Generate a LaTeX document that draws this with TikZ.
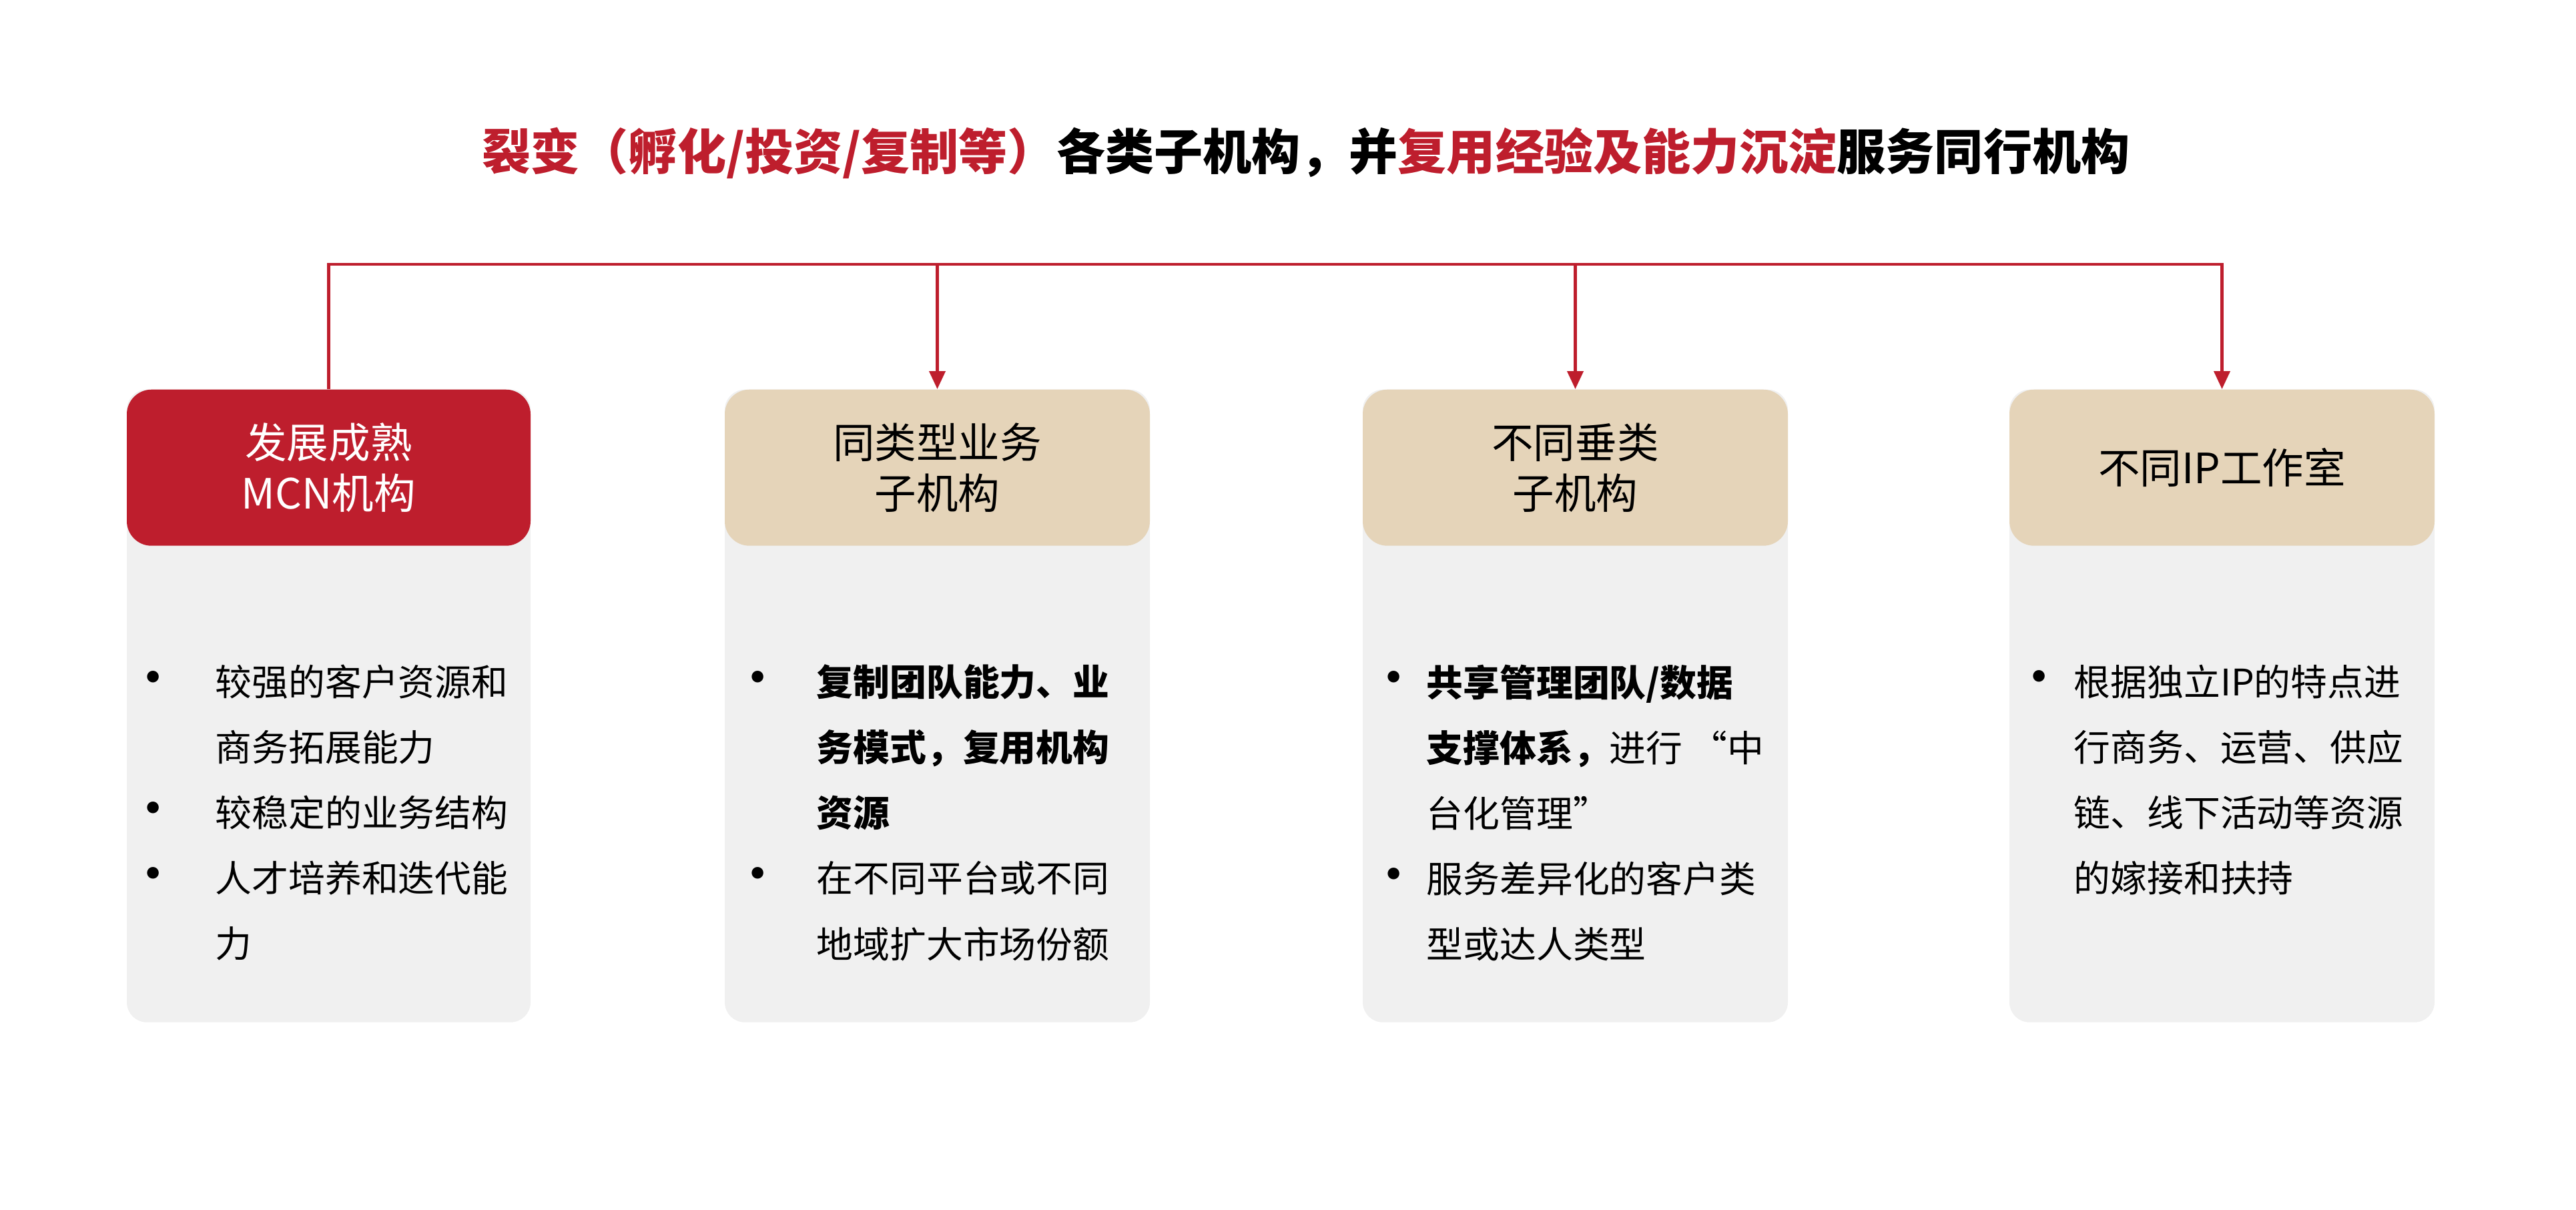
\documentclass[tikz,border=0pt]{standalone}
\usepackage{fontspec}
\newfontfamily\cjk{Noto Sans CJK SC}
\usetikzlibrary{positioning,arrows.meta}
\definecolor{mcnred}{RGB}{190,30,45}
\definecolor{sand}{RGB}{229,212,185}
\definecolor{panelgray}{RGB}{240,240,240}
\newcommand\bul[1]{\llap{\makebox[0pt]{\raisebox{-0.05em}{\scalebox{1.5}{\textbullet}}}\hspace{#1}}}
\tikzset{
  panel/.style={fill=panelgray, rounded corners=0.3cm, minimum width=#1,
    minimum height=9.48cm, anchor=north, inner sep=0pt},
  head/.style={rounded corners=0.37cm, minimum width=#1, minimum height=2.34cm,
    anchor=north, align=center, inner sep=0pt,
    font=\cjk\fontsize{17.8}{21.6}\selectfont},
  bodytext/.style={anchor=north west, align=left, inner sep=0pt,
    font=\cjk\fontsize{15.6}{27.9}\selectfont},
  link/.style={draw=mcnred, line width=1.2pt},
  arrowlink/.style={-{Triangle[length=0.27cm,width=0.24cm]}}
}
\begin{document}
\begin{tikzpicture}
  \useasboundingbox (0,0) rectangle (38.6,-18.12);
  % Define nodes
  \node[font=\cjk\bfseries\fontsize{20.8}{24}\selectfont] (title) at (19.57,-2.29)
    {\textcolor{mcnred}{裂变（孵化/投资/复制等）}各类子机构，并\textcolor{mcnred}{复用经验及能力沉淀}服务同行机构};
  \node[panel=6.05cm] (p1) at (4.925,-5.83) {};
  \node[panel=6.37cm] (p2) at (14.045,-5.83) {};
  \node[panel=6.37cm] (p3) at (23.605,-5.83) {};
  \node[panel=6.37cm] (p4) at (33.295,-5.83) {};
  \node[head=6.05cm, fill=mcnred, text=white] (mcn) at (p1.north) {发展成熟\\MCN机构};
  \node[head=6.37cm, fill=sand] (same) at (p2.north) {同类型业务\\子机构};
  \node[head=6.37cm, fill=sand] (vert) at (p3.north) {不同垂类\\子机构};
  \node[head=6.37cm, fill=sand] (studio) at (p4.north) {不同IP工作室};
  \node[bodytext] (t1) at (3.22,-9.95)
    {\bul{0.93cm}较强的客户资源和\\商务拓展能力\\\bul{0.93cm}较稳定的业务结构\\\bul{0.93cm}人才培养和迭代能\\力};
  \node[bodytext] (t2) at (12.23,-9.95)
    {\bul{0.88cm}\textbf{复制团队能力、业}\\\textbf{务模式，复用机构}\\\textbf{资源}\\\bul{0.88cm}在不同平台或不同\\地域扩大市场份额};
  \node[bodytext] (t3) at (21.37,-9.95)
    {\bul{0.49cm}\textbf{共享管理团队/数据}\\\textbf{支撑体系，}进行 “中\\台化管理”\\\bul{0.49cm}服务差异化的客户类\\型或达人类型};
  \node[bodytext] (t4) at (31.07,-9.95)
    {\bul{0.52cm}根据独立IP的特点进\\行商务、运营、供应\\链、线下活动等资源\\的嫁接和扶持};
  % Connect nodes
  \coordinate (bar) at (0,-3.96);
  \draw[link, arrowlink] (mcn.north) |- (bar -| studio.north) -- (studio.north);
  \draw[link, arrowlink] (bar -| same.north) -- (same.north);
  \draw[link, arrowlink] (bar -| vert.north) -- (vert.north);
\end{tikzpicture}
\end{document}
